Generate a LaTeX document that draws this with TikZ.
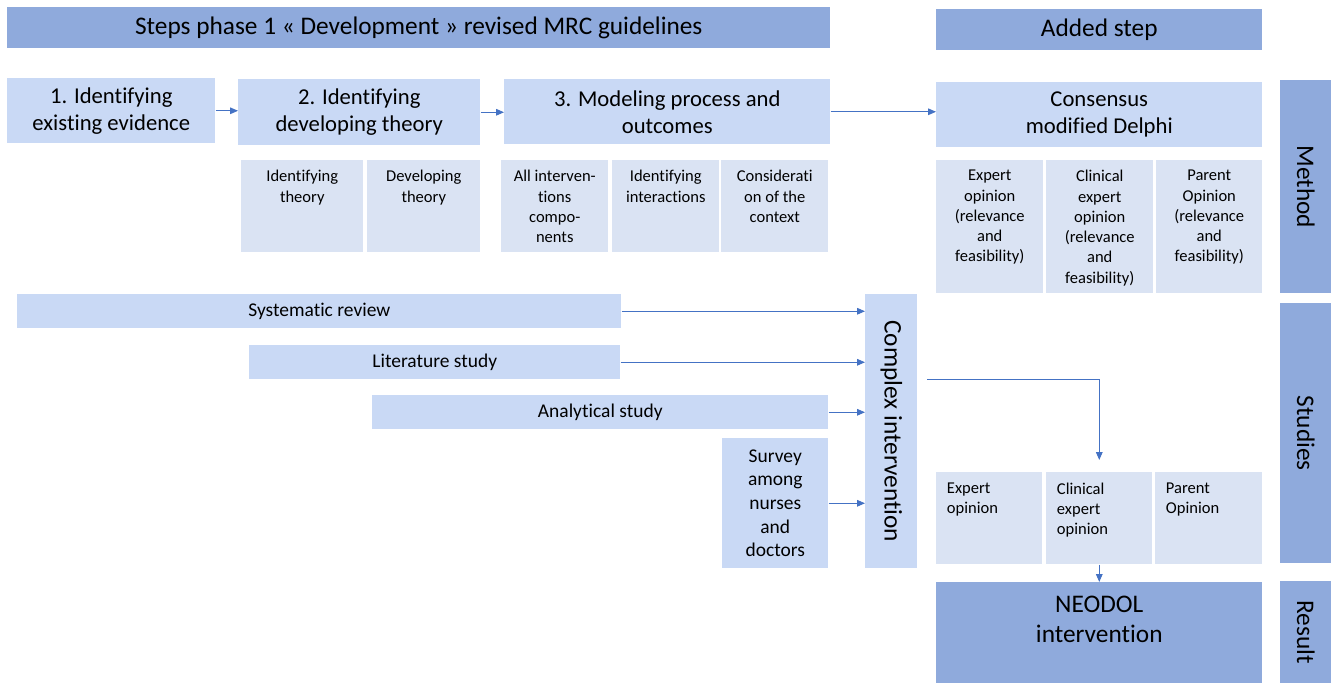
\documentclass[tikz,border=0pt]{standalone}
\usepackage{fontspec}
\setmainfont{Carlito}[Ligatures=NoCommon]
\usetikzlibrary{positioning}
\usetikzlibrary{arrows.meta}

\definecolor{headblue}{HTML}{8FAADC}
\definecolor{stepblue}{HTML}{C9D9F5}
\definecolor{subblue}{HTML}{DAE3F3}
\definecolor{linkblue}{HTML}{4472C4}

\tikzset{
	headbox/.style={fill=headblue,inner sep=0pt,anchor=north west,font=\fontsize{19}{23}\selectfont},
	stepbox/.style={fill=stepblue,inner sep=0pt,anchor=north west,align=center,font=\fontsize{17}{20.3}\selectfont},
	subbox/.style={fill=subblue,inner sep=0pt,anchor=north west},
	subtext/.style={inner sep=0pt,align=center,font=\fontsize{12.4}{15.2}\selectfont},
	studybox/.style={fill=stepblue,inner sep=0pt,anchor=north west,align=center,font=\fontsize{14.6}{17.8}\selectfont},
	bigtext/.style={inner sep=0pt,align=center,font=\fontsize{19}{23}\selectfont},
	link/.style={-{Triangle[length=6pt,width=5pt]},linkblue,line width=0.75pt}
}

\begin{document}
\begin{tikzpicture}[x=0.75pt,y=-0.75pt]

	\useasboundingbox (0,0) rectangle (1331,683);

	%% Headers %%
	\node [headbox,minimum width=617.25pt,minimum height=30.75pt] (phase) at (7,7) {Steps phase 1 « Development » revised MRC guidelines};
	\node [headbox,minimum width=244.5pt,minimum height=30.75pt] (added) at (936,9) {Added step};

	%% Steps %%
	\node [stepbox,minimum width=156pt,minimum height=48.75pt] (step1) at (7,78) {1. Identifying\\existing evidence};
	\node [stepbox,minimum width=181.5pt,minimum height=49.5pt] (step2) at (238,79) {2. Identifying\\developing theory};
	\node [stepbox,minimum width=244.5pt,minimum height=48.75pt] (step3) at (504,79) {3. Modeling process and\\outcomes};
	\node [stepbox,minimum width=244.5pt,minimum height=48.75pt] (delphi) at (936,82) {Consensus\\modified Delphi};
	\draw [link] (step1.east) -- (step1.east -| step2.west);
	\draw [link] (step2.east) -- (step2.east -| step3.west);
	\draw [link] (step3.east) -- (step3.east -| delphi.west);

	%% Sub Steps %%
	\node [subbox,minimum width=91.5pt,minimum height=69pt] (idth) at (241,160) {};
	\node [subbox,minimum width=84.75pt,minimum height=69pt] (devth) at (367,160) {};
	\node [subbox,minimum width=80.25pt,minimum height=69pt] (allint) at (501,160) {};
	\node [subbox,minimum width=80.25pt,minimum height=69pt] (idint) at (612,160) {};
	\node [subbox,minimum width=80.25pt,minimum height=69pt] (context) at (721,160) {};
	\node [subtext,below=7.5pt of idth.north] (idthtxt) {Identifying\\theory};
	\node [subtext,below=7.5pt of devth.north] (devthtxt) {Developing\\theory};
	\node [subtext,below=7.5pt of allint.north] (allinttxt) {All interven-\\tions\\compo-\\nents};
	\node [subtext,below=7.5pt of idint.north] (idinttxt) {Identifying\\interactions};
	\node [subtext,below=7.5pt of context.north] (contexttxt) {Considerati\\on of the\\context};

	%% Delphi Opinions %%
	\node [subbox,minimum width=80.25pt,minimum height=99.75pt] (expert) at (936,160) {};
	\node [subbox,minimum width=80.25pt,minimum height=99.75pt] (clinical) at (1046,160) {};
	\node [subbox,minimum width=79.5pt,minimum height=99.75pt] (parent) at (1156,160) {};
	\node [subtext,below=7.5pt of expert.north] (experttxt) {Expert\\opinion\\(relevance\\and\\feasibility)};
	\node [subtext,below=7.5pt of clinical.north] (clinicaltxt) {Clinical\\expert\\opinion\\(relevance\\and\\feasibility)};
	\node [subtext,below=7.5pt of parent.north] (parenttxt) {Parent\\Opinion\\(relevance\\and\\feasibility)};

	%% Side Labels %%
	\node [headbox,minimum width=38.25pt,minimum height=159.75pt] (method) at (1280,80) {};
	\node [headbox,minimum width=38.25pt,minimum height=195pt] (studies) at (1280,303) {};
	\node [headbox,minimum width=38.25pt,minimum height=76.5pt] (result) at (1280,581) {};
	\node [bigtext,rotate=-90] (methodtxt) at (method.center) {Method};
	\node [bigtext,rotate=-90] (studiestxt) at (studies.center) {Studies};
	\node [bigtext,rotate=-90] (resulttxt) at (result.center) {Result};

	%% Studies %%
	\node [studybox,minimum width=453pt,minimum height=25.5pt] (sysrev) at (17,294) {Systematic review};
	\node [studybox,minimum width=278.25pt,minimum height=25.5pt] (litstudy) at (249,345) {Literature study};
	\node [studybox,minimum width=342pt,minimum height=25.5pt] (analytic) at (372,395) {Analytical study};
	\node [studybox,minimum width=79.5pt,minimum height=97.5pt] (survey) at (722,438) {Survey\\among\\nurses\\and\\doctors};
	\node [studybox,minimum width=39pt,minimum height=205.5pt] (complex) at (865,294) {};
	\node [bigtext,rotate=-90] (complextxt) at (complex.center) {Complex intervention};
	\draw [link] (sysrev.east) -- (sysrev.east -| complex.west);
	\draw [link] (litstudy.east) -- (litstudy.east -| complex.west);
	\draw [link] (analytic.east) -- (analytic.east -| complex.west);
	\draw [link] (survey.east) -- (survey.east -| complex.west);

	%% Opinions After %%
	\node [subbox,minimum width=79.5pt,minimum height=69pt] (expert2) at (936,472) {};
	\node [subbox,minimum width=79.5pt,minimum height=69pt] (clinical2) at (1046,472) {};
	\node [subbox,minimum width=80.25pt,minimum height=69pt] (parent2) at (1155,472) {};
	\node [subtext,align=left,anchor=north west,xshift=8pt,yshift=-8pt] (expert2txt) at (expert2.north west) {Expert\\opinion};
	\node [subtext,align=left,anchor=north west,xshift=8pt,yshift=-8pt] (clinical2txt) at (clinical2.north west) {Clinical\\expert\\opinion};
	\node [subtext,align=left,anchor=north west,xshift=8pt,yshift=-8pt] (parent2txt) at (parent2.north west) {Parent\\Opinion};
	\coordinate (complexout) at (927,379);
	\draw [link,shorten >=9pt] (complexout) -| (clinical2.north);

	%% Result %%
	\node [headbox,minimum width=244.5pt,minimum height=75.75pt] (neodol) at (936,582) {};
	\node [bigtext,below=10pt of neodol.north] (neodoltxt) {NEODOL\\intervention};
	\draw [link] (clinical2.south) -- (clinical2.south |- neodol.north);

\end{tikzpicture}
\end{document}
